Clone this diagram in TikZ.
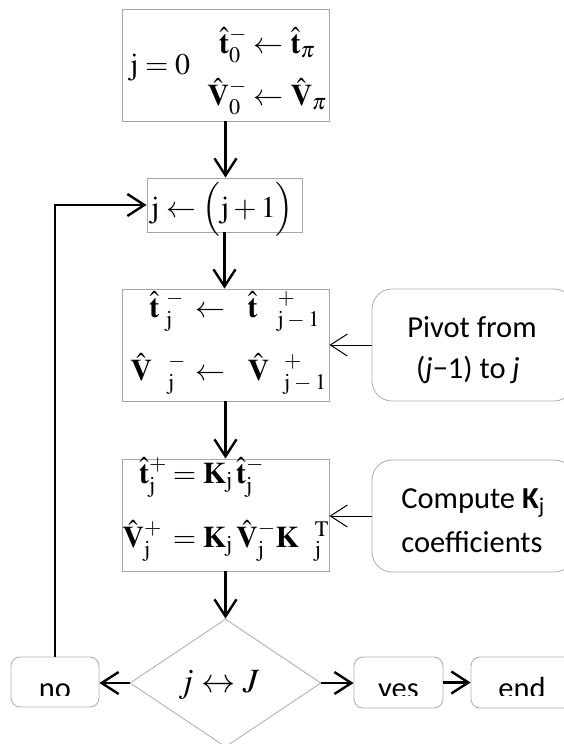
\documentclass[tikz,border=0pt]{standalone}
\usepackage{mathptmx}
\usepackage[no-math]{fontspec}
\newfontfamily\sidefont{Carlito}
\usetikzlibrary{arrows.meta,shapes.geometric}
\definecolor{boxgray}{RGB}{166,166,166}
\definecolor{softgray}{RGB}{178,178,178}
\newcommand\eqsize{\fontsize{30}{36}\selectfont}
\newcommand\bigeqsize{\fontsize{34}{40}\selectfont}
\newcommand\sidesize{\sidefont\fontsize{30.5}{40}\selectfont}
\begin{document}
\begin{tikzpicture}[x=1pt,y=-1pt,
  mathbox/.style={draw=boxgray, line width=0.9pt, rectangle, inner sep=0pt},
  notebox/.style={draw=softgray, line width=0.9pt, rectangle, rounded corners=20pt, inner sep=0pt},
  answerbox/.style={draw=softgray, line width=0.9pt, rectangle, rounded corners=9pt, inner sep=0pt},
  eqtext/.style={inner sep=0pt, font=\eqsize},
  sidetext/.style={inner sep=0pt, font=\sidesize, anchor=base},
  flowarrow/.style={line width=2.4pt, -{Straight Barb[length=17pt,width=22pt]}},
  feedarrow/.style={line width=1pt, -{Straight Barb[length=17pt,width=22pt]}},
]
\useasboundingbox (0,0) rectangle (564,744);

% boxes of the loop
\node[mathbox, minimum width=207pt, minimum height=112pt] (init) at (225.5,65) {};
\node[mathbox, minimum width=155pt, minimum height=54pt] (incr) at (224.5,205) {};
\node[mathbox, minimum width=207pt, minimum height=112pt] (pivot) at (225.5,345) {};
\node[mathbox, minimum width=207pt, minimum height=112pt] (update) at (225.5,515) {};
\node[notebox, minimum width=202pt, minimum height=112pt] (pivotnote) at (473,345) {};
\node[notebox, minimum width=202pt, minimum height=112pt] (gainnote) at (473,516) {};
\node[draw=softgray, line width=0.9pt, diamond, inner sep=0pt,
      minimum width=191pt, minimum height=128pt] (test) at (225.5,683) {};
\node[answerbox, minimum width=88pt, minimum height=50pt] (no) at (55,682) {};
\node[answerbox, minimum width=89pt, minimum height=51pt] (yes) at (398.5,682.5) {};
\node[answerbox, minimum width=102pt, minimum height=51pt] (end) at (522,682.5) {};

% initialisation
\node[eqtext, anchor=base west] (i0) at (130,74) {$\mathrm{j}=0$};
\node[eqtext, anchor=base east] (i1) at (247,53) {$\hat{\mathbf t}_0^-$};
\node[eqtext, anchor=base west] (i2) at (247,53) {${}\leftarrow\hat{\mathbf t}_\pi$};
\node[eqtext, anchor=base east] (i3) at (247,105) {$\hat{\mathbf V}_0^-$};
\node[eqtext, anchor=base west] (i4) at (247,105) {${}\leftarrow\hat{\mathbf V}_\pi$};

% increment
\node[eqtext, anchor=base west] (k0) at (151,217) {$\mathrm{j}\leftarrow\Bigl(\mathrm{j}+1\Bigr)$};

% pivot step
\node[eqtext, anchor=base east] (p1) at (184,317) {$\hat{\mathbf t}\;{}^{-}_{\mathrm j}$};
\node[eqtext, anchor=base west] (p2) at (189,317)
  {${}\leftarrow\hspace{15pt}\hat{\mathbf t}\hspace{20pt}{}^{+}_{\mathrm j\mkern3mu-\mkern3mu 1}$};
\node[eqtext, anchor=base east] (p3) at (186,380) {$\hat{\mathbf V}\hspace{16pt}{}^{-}_{\mathrm j}$};
\node[eqtext, anchor=base west] (p4) at (189,380)
  {${}\leftarrow\hspace{15pt}\hat{\mathbf V}\hspace{15pt}{}^{+}_{\mathrm j\mkern3mu-\mkern3mu 1}$};

% update step
\node[eqtext, anchor=base east] (u1) at (167,483) {$\hat{\mathbf t}_{\mathrm j}^{+}$};
\node[eqtext, anchor=base west] (u2) at (166,483)
  {${}={}\mathbf K_{\mathrm j}\,\hat{\mathbf t}_{\mathrm j}^{-}$};
\node[eqtext, anchor=base east] (u3) at (162,547) {$\hat{\mathbf V}_{\mathrm j}^{+}$};
\node[eqtext, anchor=base west] (u4) at (166,547)
  {${}={}\mathbf K_{\mathrm j}\,\hat{\mathbf V}_{\mathrm j}^{-}\mathbf K\hspace{16pt}{}_{\mathrm j}^{\mathrm T}$};

% test
\node[inner sep=0pt, font=\bigeqsize, anchor=base] (testlabel) at (219,692) {$j\leftrightarrow J$};

% side notes
\node[sidetext] (pv1) at (472,337) {Pivot from};
\node[sidetext] (pv2) at (468,378) {(\textit{j}−1) to \textit{j}};
\node[sidetext] (cp1) at (473,508) {Compute \textbf{K}\textsubscript{j}};
\node[sidetext] (cp2) at (472,552) {coefficients};

% answers, cut along their lower part
\begin{scope}
  \clip (0,0) rectangle (564,695);
  \node[sidetext] (notext) at (55,698) {no};
  \node[sidetext] (yestext) at (398.5,698) {yes};
  \node[sidetext] (endtext) at (522,698) {end};
\end{scope}

% connectors
\draw[flowarrow] (init.south) -- (init.south |- incr.north);
\draw[flowarrow] (incr.south) -- (incr.south |- pivot.north);
\draw[flowarrow] (pivot.south) -- (update.north);
\draw[flowarrow] (update.south) -- (test.north);
\draw[feedarrow] (pivotnote.west) -- (pivot.east);
\draw[feedarrow] (gainnote.west) -- (gainnote.west -| update.east);
\draw[flowarrow] (test.west) -- (test.west -| no.east);
\draw[flowarrow] (test.east) -- (test.east -| yes.west);
\draw[flowarrow] (yes.east) -- (yes.east -| end.west);
\draw[flowarrow] (no.north) |- (incr.west);
\end{tikzpicture}
\end{document}
